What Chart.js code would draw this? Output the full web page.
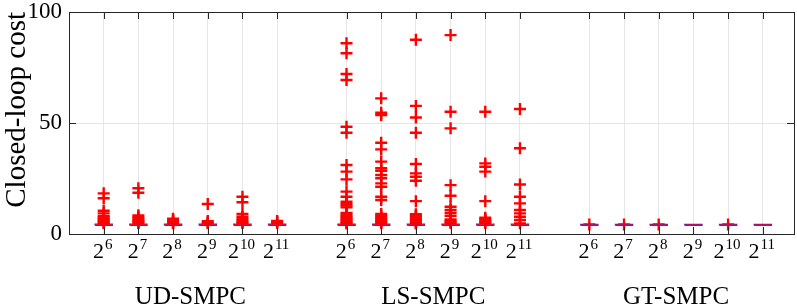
<!DOCTYPE html>
<html>
<head>
<meta charset="utf-8">
<script src="https://cdn.jsdelivr.net/npm/chart.js@4.4.0/dist/chart.umd.min.js"></script>
<style>
    html, body { margin: 0; padding: 0; background: #fff; }
</style>
</head>
<body>
<canvas id="costChart" width="797" height="305"></canvas>
<script>
// groups and sample counts (2^n)
const groupNames = ['UD-SMPC', 'LS-SMPC', 'GT-SMPC'];
const exponents = ['6', '7', '8', '9', '10', '11'];
const positions = [
    [1, 2, 3, 4, 5, 6],
    [8, 9, 10, 11, 12, 13],
    [15, 16, 17, 18, 19, 20]
];

// box statistics (boxes are squashed near the bottom)
const medians = [
    [4.2, 4.2, 4.2, 4.2, 4.2, 4.2],
    [4.2, 4.2, 4.2, 4.2, 4.2, 4.2],
    [4.1, 4.1, 4.1, 4.1, 4.1, 4.1]
];
const lowerQuartiles = [
    [3.9, 3.9, 3.9, 3.9, 3.9, 3.9],
    [3.9, 3.9, 3.9, 3.9, 3.9, 3.9],
    [3.9, 3.9, 3.9, 3.9, 3.9, 3.9]
];
const upperQuartiles = [
    [4.5, 4.5, 4.5, 4.5, 4.5, 4.5],
    [4.5, 4.5, 4.5, 4.5, 4.5, 4.5],
    [4.3, 4.3, 4.3, 4.3, 4.3, 4.3]
];

// outliers per box
const udOutliers = [
    [18.3, 16.1, 10.5, 9.3, 8.0, 7.4, 6.8, 6.2, 5.7, 5.2, 4.8],
    [20.6, 18.6, 8.4, 7.7, 7.0, 6.4, 5.8, 5.3, 4.8],
    [6.9, 6.3, 5.7, 5.2, 4.8],
    [13.5, 5.8, 5.2, 4.8],
    [16.8, 14.3, 9.0, 7.8, 6.8, 6.0, 5.4, 4.9],
    [5.9, 5.4, 4.9]
];
const lsOutliers = [
    [85.9, 81.4, 72.1, 69.4, 48.3, 45.6, 31.1, 28.1, 24.6, 19.1, 16.8, 14.5, 13.5, 12.8, 12.0, 9.5, 8.8, 8.0, 7.4, 6.8, 6.2, 5.6, 5.1, 4.7],
    [61.1, 54.6, 53.6, 41.1, 38.1, 32.6, 29.6, 28.5, 26.6, 25.1, 22.8, 21.3, 16.8, 15.3, 9.0, 8.3, 7.6, 7.0, 6.4, 5.8, 5.3, 4.8],
    [87.5, 57.7, 52.5, 45.6, 31.5, 27.3, 25.8, 24.0, 14.8, 8.9, 8.2, 7.5, 6.8, 6.2, 5.6, 5.1, 4.7],
    [89.6, 55.1, 47.6, 22.0, 17.2, 12.3, 10.8, 9.5, 8.2, 6.6, 6.0, 5.4, 4.9],
    [55.1, 31.8, 30.3, 28.1, 14.8, 7.3, 6.7, 6.1, 5.5, 5.0],
    [56.3, 38.6, 22.3, 16.8, 13.8, 10.8, 9.3, 7.8, 6.3, 4.8]
];
const gtOutliers = [
    [4.3],
    [4.3],
    [4.3],
    [],
    [4.3],
    []
];
const yTicks = [0, 50, 100];

const allOutliers = [udOutliers, lsOutliers, gtOutliers];
const halfWidth = 0.25;
const serif = '"Liberation Serif", "Times New Roman", serif';

// build line segments / points from the arrays
const boxPoints = [];
const medianPoints = [];
const outlierPoints = [];
positions.forEach(function(group, g) {
    group.forEach(function(p, i) {
        const lo = lowerQuartiles[g][i], hi = upperQuartiles[g][i];
        boxPoints.push(
            {x: p - halfWidth, y: lo}, {x: p + halfWidth, y: lo},
            {x: p + halfWidth, y: hi}, {x: p - halfWidth, y: hi},
            {x: p - halfWidth, y: lo}, {x: p, y: null}
        );
        medianPoints.push({x: p - halfWidth, y: medians[g][i]}, {x: p + halfWidth, y: medians[g][i]}, {x: p, y: null});
        allOutliers[g][i].forEach(function(v) {
            outlierPoints.push({x: p, y: v});
        });
    });
});
const allPositions = positions.flat();

// frame, inward tick marks, 2^n labels and group names
const framePlugin = {
    id: 'frame',
    afterDraw(chart) {
        const ctx = chart.ctx;
        const a = chart.chartArea;
        const xs = chart.scales.x, ys = chart.scales.y;
        ctx.save();
        ctx.strokeStyle = '#262626';
        ctx.lineWidth = 1;
        ctx.strokeRect(Math.round(a.left) + 0.5, Math.round(a.top) + 0.5,
            Math.round(a.right - a.left), Math.round(a.bottom - a.top));
        ctx.beginPath();
        allPositions.forEach(function(p) {
            const px = Math.round(xs.getPixelForValue(p)) + 0.5;
            ctx.moveTo(px, a.bottom); ctx.lineTo(px, a.bottom - 7);
            ctx.moveTo(px, a.top); ctx.lineTo(px, a.top + 7);
        });
        yTicks.forEach(function(v) {
            const py = Math.round(ys.getPixelForValue(v)) + 0.5;
            ctx.moveTo(a.left, py); ctx.lineTo(a.left + 7, py);
            ctx.moveTo(a.right, py); ctx.lineTo(a.right - 7, py);
        });
        ctx.stroke();

        ctx.fillStyle = '#000';
        ctx.textBaseline = 'alphabetic';
        ctx.textAlign = 'left';
        positions.forEach(function(group) {
            group.forEach(function(p, i) {
                const px = xs.getPixelForValue(p);
                ctx.font = '22px ' + serif;
                const wBase = ctx.measureText('2').width;
                ctx.font = '15px ' + serif;
                const wExp = ctx.measureText(exponents[i]).width;
                const x0 = px - (wBase + wExp + 1) / 2 - 1;
                ctx.font = '22px ' + serif;
                ctx.fillText('2', x0, a.bottom + 24);
                ctx.font = '15px ' + serif;
                ctx.fillText(exponents[i], x0 + wBase + 1, a.bottom + 15);
            });
        });
        ctx.font = '25px ' + serif;
        ctx.textAlign = 'center';
        positions.forEach(function(group, g) {
            const mid = (group[0] + group[group.length - 1]) / 2;
            ctx.fillText(groupNames[g], xs.getPixelForValue(mid), a.bottom + 70);
        });
        ctx.restore();
    }
};

new Chart(document.getElementById('costChart').getContext('2d'), {
    type: 'scatter',
    data: {
        datasets: [
            {
                data: medianPoints,
                showLine: true,
                spanGaps: false,
                borderColor: '#ff0000',
                borderWidth: 1,
                pointRadius: 0
            },
            {
                data: boxPoints,
                showLine: true,
                spanGaps: false,
                borderColor: '#3030ff',
                borderWidth: 1.2,
                pointRadius: 0
            },
            {
                data: outlierPoints,
                pointStyle: 'cross',
                pointRadius: 6,
                borderColor: '#ff0000',
                borderWidth: 2.4,
                backgroundColor: '#ff0000'
            }
        ]
    },
    options: {
        responsive: false,
        animation: false,
        layout: { autoPadding: false, padding: { top: 12, right: 3, left: 0, bottom: 0 } },
        plugins: {
            legend: { display: false },
            tooltip: { enabled: false }
        },
        scales: {
            x: {
                type: 'linear',
                min: 0,
                max: 20.9,
                afterBuildTicks: function(scale) {
                    scale.ticks = allPositions.map(function(v) { return {value: v}; });
                },
                afterFit: function(scale) { scale.height = 71; },
                ticks: { display: false },
                grid: { color: '#e6e6e6', drawTicks: false },
                border: { display: false }
            },
            y: {
                min: 0,
                max: 100,
                afterBuildTicks: function(scale) {
                    scale.ticks = yTicks.map(function(v) { return {value: v}; });
                },
                afterFit: function(scale) {
                    scale.width = 69;
                    scale.paddingTop = 0;
                    scale.paddingBottom = 0;
                },
                ticks: {
                    color: '#000',
                    padding: 7,
                    font: { family: serif, size: 23, lineHeight: 0.4 }
                },
                grid: { color: '#e6e6e6', drawTicks: false },
                border: { display: false },
                title: {
                    display: true,
                    text: 'Closed-loop cost',
                    align: 'end',
                    color: '#000',
                    padding: { top: 0, bottom: 0 },
                    font: { family: serif, size: 29 }
                }
            }
        }
    },
    plugins: [framePlugin]
});
</script>
</body>
</html>
